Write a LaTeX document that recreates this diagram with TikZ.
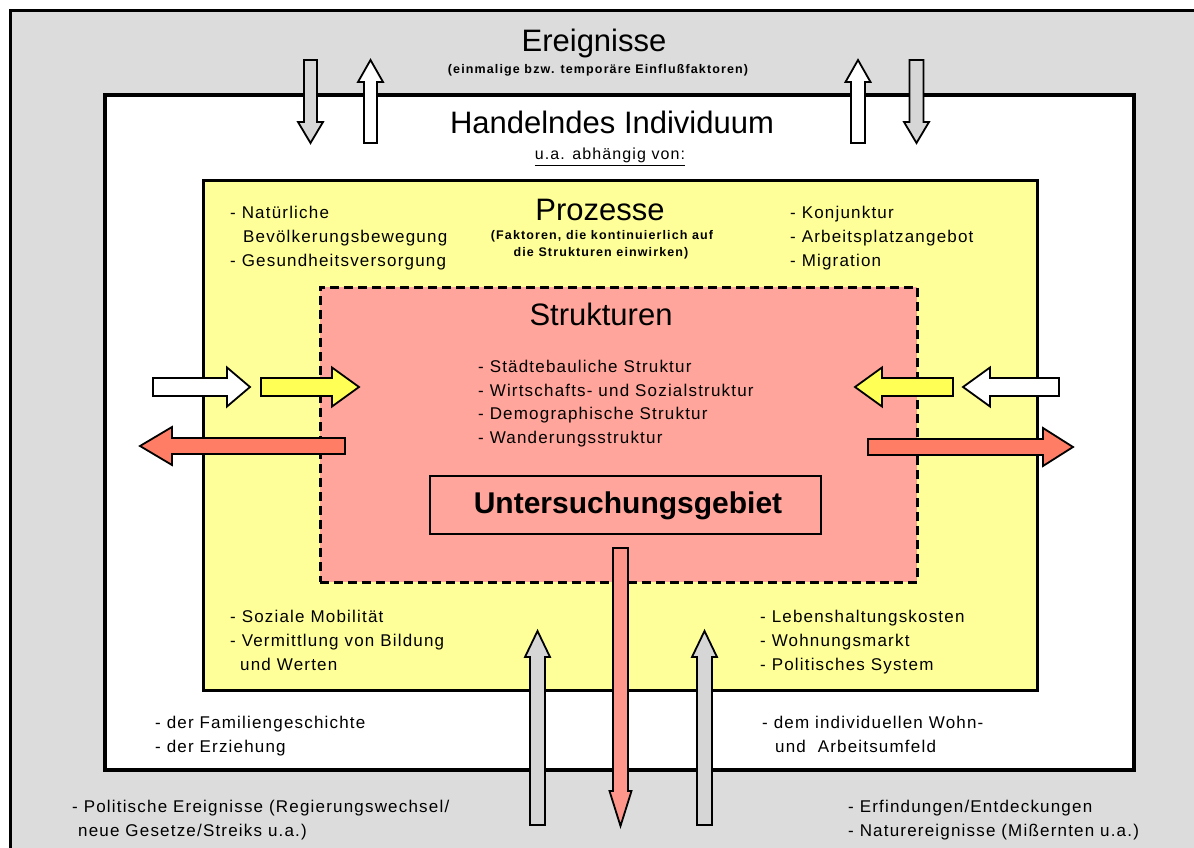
\documentclass[tikz,border=0pt]{standalone}
\usepackage{fontspec}
\setmainfont{Liberation Sans}
\newfontfamily\lsp[LetterSpace=7]{Liberation Sans}
\newfontfamily\lspb[LetterSpace=9]{Liberation Sans Bold}
\definecolor{greybg}{RGB}{220,220,220}
\definecolor{greyarr}{RGB}{214,214,214}
\definecolor{yelbox}{RGB}{255,255,153}
\definecolor{yelarr}{RGB}{255,255,85}
\definecolor{pinkbox}{RGB}{255,165,155}
\definecolor{redarr}{RGB}{255,125,100}
\definecolor{pinkarr}{RGB}{255,150,140}
\tikzset{
  arrowline/.style={draw=black,line width=1.8pt,line join=miter},
  title/.style={font=\fontsize{31}{31}\selectfont,anchor=base,inner sep=0pt},
  subtitle/.style={font=\lspb\fontsize{12.5}{12.5}\selectfont,anchor=base,inner sep=0pt},
  item/.style={font=\lsp\fontsize{17}{17}\selectfont,anchor=base west,inner sep=0pt},
  box/.style={draw=black,anchor=center,inner sep=0pt,outer sep=0pt}
}
% horizontal block arrow: fill, x start, x head base, x tip, y centre, shaft half, head half
\newcommand{\harr}[7]{\draw[arrowline,fill=#1] (#2,#5-#6) -- (#3,#5-#6) -- (#3,#5-#7) -- (#4,#5) -- (#3,#5+#7) -- (#3,#5+#6) -- (#2,#5+#6) -- cycle;}
% vertical block arrow: fill, y start, y head base, y tip, x centre, shaft half, head half
\newcommand{\varr}[7]{\draw[arrowline,fill=#1] (#5-#6,#2) -- (#5-#6,#3) -- (#5-#7,#3) -- (#5,#4) -- (#5+#7,#3) -- (#5+#6,#3) -- (#5+#6,#2) -- cycle;}
\begin{document}
\begin{tikzpicture}[x=1pt,y=-1pt]
\useasboundingbox (0,0) rectangle (1194,848);
\clip (0,0) rectangle (1194,848);
\fill[white] (0,0) rectangle (1194,848);
% outer frame
\fill[greybg] (10,11) rectangle (1210,870);
\draw[line width=3pt] (10,870) -- (10,11) -- (1210,11);
% boxes
\node[box,line width=3.5pt,fill=white,minimum width=1029pt,minimum height=675pt] (indiv) at (619.5,432.5) {};
\node[box,line width=3pt,fill=yelbox,minimum width=834pt,minimum height=510pt] (proz) at (620,435) {};
\node[box,line width=3pt,dash pattern=on 9pt off 5pt,fill=pinkbox,minimum width=597pt,minimum height=295pt] (strukt) at (618.5,434.5) {};
\node[box,line width=1.5pt,minimum width=391pt,minimum height=58pt] (ug) at (625.5,505) {};
\node[font=\bfseries\fontsize{30}{30}\selectfont,anchor=base,inner sep=0pt] (ugtext) at (628,513) {Untersuchungsgebiet};
% titles
\node[title] (ereig) at (594,52) {Ereignisse};
\node[subtitle] (ereigsub) at (598,74) {(einmalige bzw. temporäre Einflußfaktoren)};
\node[title] (hand) at (612,134) {Handelndes Individuum};
\node[font=\lsp\fontsize{16}{16}\selectfont,anchor=base,inner sep=0pt] (abh) at (610,160) {\underline{u.a. abhängig von:}};
\node[title] (prozt) at (600,220) {Prozesse};
\node[subtitle] (prozs1) at (602,239) {(Faktoren, die kontinuierlich auf};
\node[subtitle] (prozs2) at (601,256) {die Strukturen einwirken)};
\node[title] (struktt) at (601,325) {Strukturen};
% lists
\node[item] (l1) at (230,218) {- Natürliche};
\node[item] (l2) at (243,242) {Bevölkerungsbewegung};
\node[item] (l3) at (230,266) {- Gesundheitsversorgung};
\node[item] (r1) at (790,218) {- Konjunktur};
\node[item] (r2) at (790,242) {- Arbeitsplatzangebot};
\node[item] (r3) at (790,266) {- Migration};
\node[item] (s1) at (478,372) {- Städtebauliche Struktur};
\node[item] (s2) at (478,396) {- Wirtschafts- und Sozialstruktur};
\node[item] (s3) at (478,419) {- Demographische Struktur};
\node[item] (s4) at (478,443) {- Wanderungsstruktur};
\node[item] (b1) at (230,622) {- Soziale Mobilität};
\node[item] (b2) at (230,646) {- Vermittlung von Bildung};
\node[item] (b3) at (240,670) {und Werten};
\node[item] (c1) at (760,622) {- Lebenshaltungskosten};
\node[item] (c2) at (760,646) {- Wohnungsmarkt};
\node[item] (c3) at (760,670) {- Politisches System};
\node[item] (w1) at (155,728) {- der Familiengeschichte};
\node[item] (w2) at (155,752) {- der Erziehung};
\node[item] (w3) at (762,728) {- dem individuellen Wohn-};
\node[item] (w4) at (775,752) {und \ Arbeitsumfeld};
\node[item] (g1) at (72,812) {- Politische Ereignisse (Regierungswechsel/};
\node[item] (g2) at (78,836) {neue Gesetze/Streiks u.a.)};
\node[item] (g3) at (848,812) {- Erfindungen/Entdeckungen};
\node[item] (g4) at (848,836) {- Naturereignisse (Mißernten u.a.)};
% top arrows
\varr{greyarr}{60}{122}{143}{310.5}{6.5}{12.5}
\varr{white}{143}{82}{60}{370.5}{6.5}{12.5}
\varr{white}{143}{82}{60}{858}{7}{12.5}
\varr{greyarr}{60}{122}{143}{916.5}{7}{12.5}
% horizontal arrows
\harr{white}{153}{227}{250}{387}{9}{19.5}
\harr{yelarr}{261}{332}{359}{387}{9}{19.5}
\harr{redarr}{345}{172}{140}{446}{8}{19}
\harr{yelarr}{953}{882}{855}{387}{9}{19.5}
\harr{white}{1059}{990}{963}{387}{9}{19.5}
\harr{redarr}{868}{1043}{1073}{447}{8}{19}
% bottom arrows
\varr{greyarr}{825}{657}{631}{537.5}{7.5}{12.5}
\varr{greyarr}{825}{657}{631}{704.5}{7.5}{12.5}
\varr{pinkarr}{548}{791}{826}{620.5}{7.5}{11}
\end{tikzpicture}
\end{document}
